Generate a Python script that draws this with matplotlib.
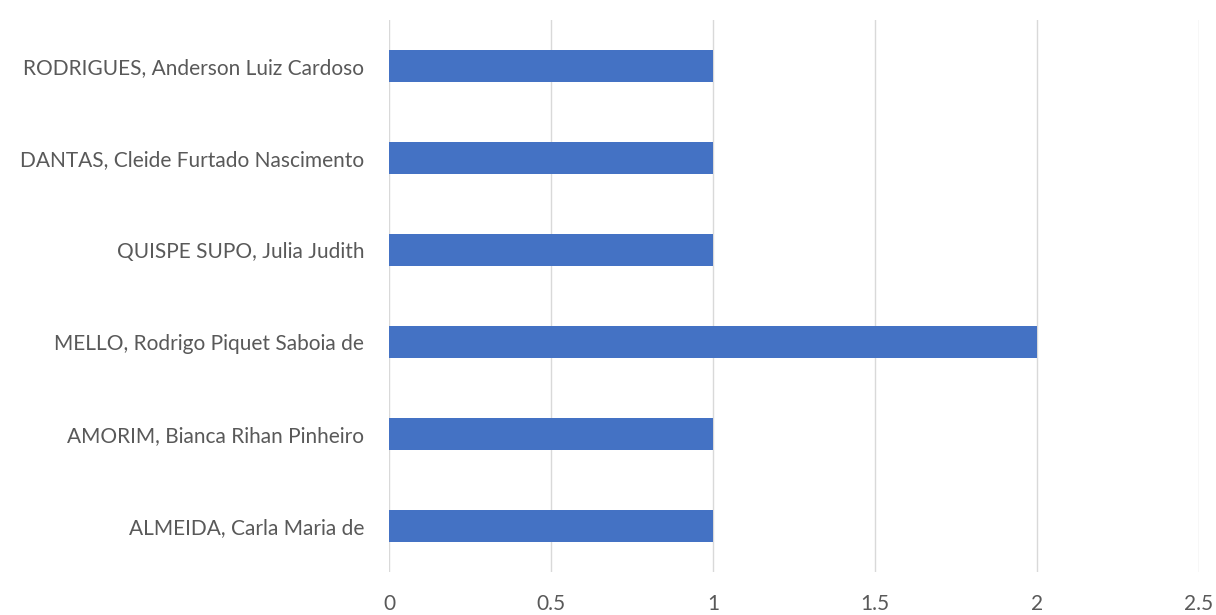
import matplotlib
matplotlib.use('Agg')
import matplotlib.pyplot as plt

# autores e número de trabalhos (de baixo para cima)
autores = [
    'ALMEIDA, Carla Maria de',
    'AMORIM, Bianca Rihan Pinheiro',
    'MELLO, Rodrigo Piquet Saboia de',
    'QUISPE SUPO, Julia Judith',
    'DANTAS, Cleide Furtado Nascimento',
    'RODRIGUES, Anderson Luiz Cardoso',
]
trabalhos = [1, 1, 2, 1, 1, 1]
ticks_x = [0, 0.5, 1, 1.5, 2, 2.5]
ticks_x_labels = ['0', '0.5', '1', '1.5', '2', '2.5']

AZUL = '#4472C4'
CINZA = '#595959'

plt.rcParams['font.family'] = ['Lato', 'DejaVu Sans']

fig = plt.figure(figsize=(12.16, 6.15), dpi=100)
ax = fig.add_axes([0.32, 0.07, 0.666, 0.897])

ax.barh(range(len(autores)), trabalhos, height=0.35, color=AZUL, zorder=3)

ax.set_xlim(0, 2.5)
ax.set_ylim(-0.5, len(autores) - 0.5)
ax.set_xticks(ticks_x)
ax.set_xticklabels(ticks_x_labels)
ax.set_yticks(range(len(autores)))
ax.set_yticklabels(autores)

ax.grid(axis='x', color='#D9D9D9', linewidth=1, zorder=0)
for s in ax.spines.values():
    s.set_visible(False)
ax.tick_params(axis='both', length=0, colors=CINZA, labelsize=15)
ax.tick_params(axis='y', pad=18)
ax.tick_params(axis='x', pad=16)

fig.savefig('out.png', dpi=100)
